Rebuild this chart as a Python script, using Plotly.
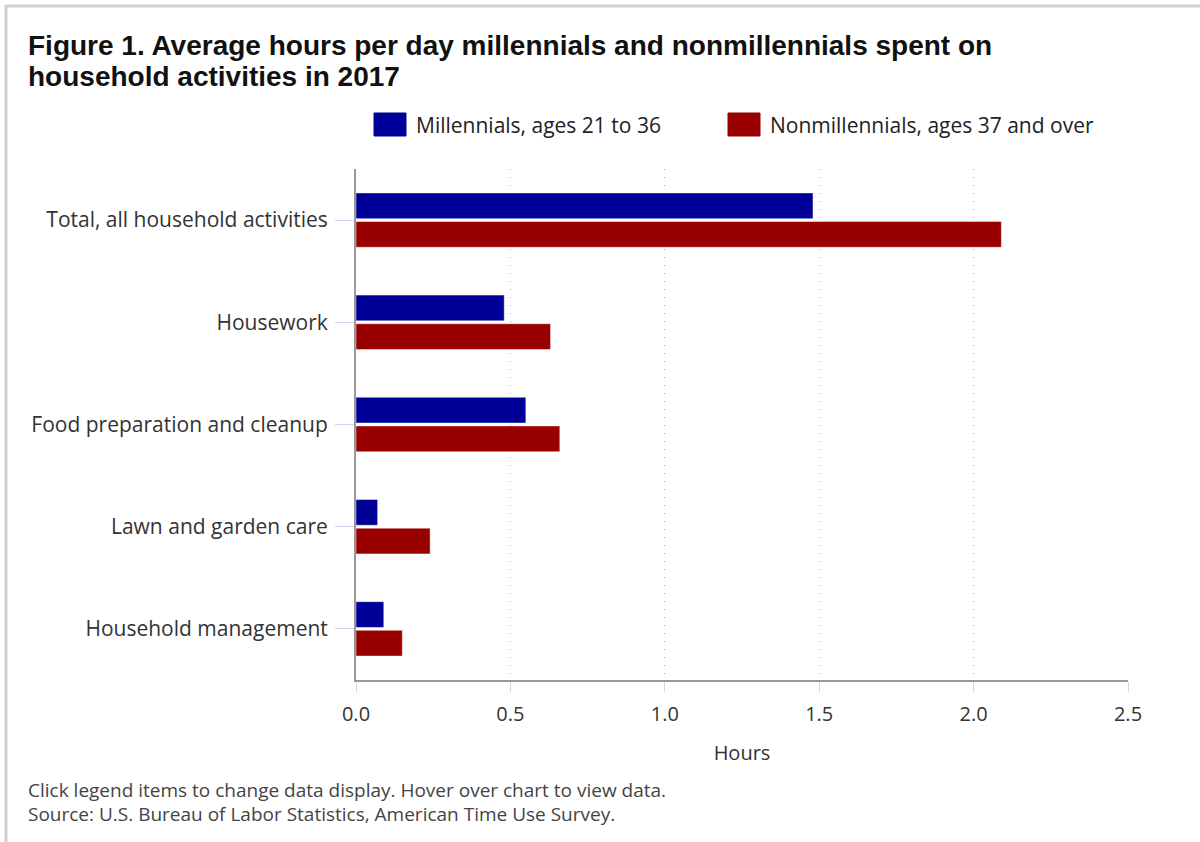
import plotly.graph_objects as go

categories = ["Total, all household activities", "Housework", "Food preparation and cleanup",
              "Lawn and garden care", "Household management"]
millennials = [1.48, 0.48, 0.55, 0.07, 0.09]
nonmillennials = [2.09, 0.63, 0.66, 0.24, 0.15]
series_names = ["Millennials, ages 21 to 36", "Nonmillennials, ages 37 and over"]
series_colors = ["#000099", "#990000"]
x_ticks = [0.0, 0.5, 1.0, 1.5, 2.0, 2.5]

W, H = 1200, 842
L, R, T, B = 356, 72, 169, 162
PW, PH = W - L - R, H - T - B


def px(x):
    return (x - L) / PW


def py(y):
    return (H - B - y) / PH


TXT = "'Open Sans', Lato, sans-serif"
TITLE = "'Liberation Sans', Arial, sans-serif"

fig = go.Figure()
for name, vals, col in zip(series_names, [millennials, nonmillennials], series_colors):
    fig.add_trace(go.Bar(
        y=categories, x=vals, name=name, orientation="h",
        marker=dict(color=col, line=dict(color="rgba(255,255,255,0.45)", width=1)),
        showlegend=False,
        hovertemplate="%{y}<br>" + name + ": %{x:.2f}<extra></extra>",
    ))

shapes = [
    dict(type="line", xref="paper", yref="paper", x0=px(5), x1=px(1200), y0=py(6), y1=py(6),
         line=dict(color="#d0d0d0", width=3)),
    dict(type="line", xref="paper", yref="paper", x0=px(6), x1=px(6), y0=py(5), y1=py(842),
         line=dict(color="#d0d0d0", width=3)),
]
annotations = [
    dict(xref="paper", yref="paper", x=px(26), y=py(45), xanchor="left", yanchor="middle",
         align="left", showarrow=False,
         text="<b>Figure 1. Average hours per day millennials and nonmillennials spent on</b>",
         font=dict(family=TITLE, size=28, color="#111")),
    dict(xref="paper", yref="paper", x=px(26), y=py(76), xanchor="left", yanchor="middle",
         align="left", showarrow=False,
         text="<b>household activities in 2017</b>",
         font=dict(family=TITLE, size=28, color="#111")),
    dict(xref="paper", yref="paper", x=px(26), y=py(790), xanchor="left", yanchor="middle",
         align="left", showarrow=False,
         text="Click legend items to change data display. Hover over chart to view data.",
         font=dict(family=TXT, size=19, color="#444")),
    dict(xref="paper", yref="paper", x=px(26), y=py(814), xanchor="left", yanchor="middle",
         align="left", showarrow=False,
         text="Source: U.S. Bureau of Labor Statistics, American Time Use Survey.",
         font=dict(family=TXT, size=19, color="#444")),
]
leg_x = [374, 728]
for name, col, x0 in zip(series_names, series_colors, leg_x):
    shapes.append(dict(type="rect", xref="paper", yref="paper", x0=px(x0), x1=px(x0 + 32),
                       y0=py(136), y1=py(113), fillcolor=col, line=dict(color=col, width=1)))
    annotations.append(dict(xref="paper", yref="paper", x=px(x0 + 40), y=py(125),
                            xanchor="left", yanchor="middle", showarrow=False, text=name,
                            font=dict(family=TXT, size=21, color="#222")))

fig.update_layout(
    width=W, height=H, autosize=False,
    margin=dict(l=L, r=R, t=T, b=B, pad=0),
    paper_bgcolor="white", plot_bgcolor="white",
    barmode="group", bargap=0.44, bargroupgap=0.1,
    shapes=shapes, annotations=annotations,
    xaxis=dict(range=[0, 2.5], tickvals=x_ticks, ticktext=[f"{v:.1f}" for v in x_ticks],
               showgrid=True, gridcolor="#a8a8a8", gridwidth=1, griddash="1px,7px",
               zeroline=False, showline=True, linecolor="#999999", linewidth=2,
               ticks="outside", ticklen=10, tickcolor="#ccd6eb", tickwidth=1,
               ticklabelstandoff=5,
               tickfont=dict(family=TXT, size=20, color="#333"),
               title=dict(text="Hours", font=dict(family=TXT, size=20, color="#333"), standoff=20),
               fixedrange=True),
    yaxis=dict(categoryorder="array", categoryarray=categories, autorange="reversed",
               showgrid=False, zeroline=False, showline=True, linecolor="#999999", linewidth=2,
               ticks="outside", ticklen=19, tickcolor="#ccd6eb", tickwidth=1,
               ticklabelstandoff=3,
               tickfont=dict(family=TXT, size=21, color="#333"), fixedrange=True),
    hoverlabel=dict(font=dict(family=TXT)),
)

fig.write_html("out.html", config={"displayModeBar": False},
               post_script="document.body.style.margin='0';")
